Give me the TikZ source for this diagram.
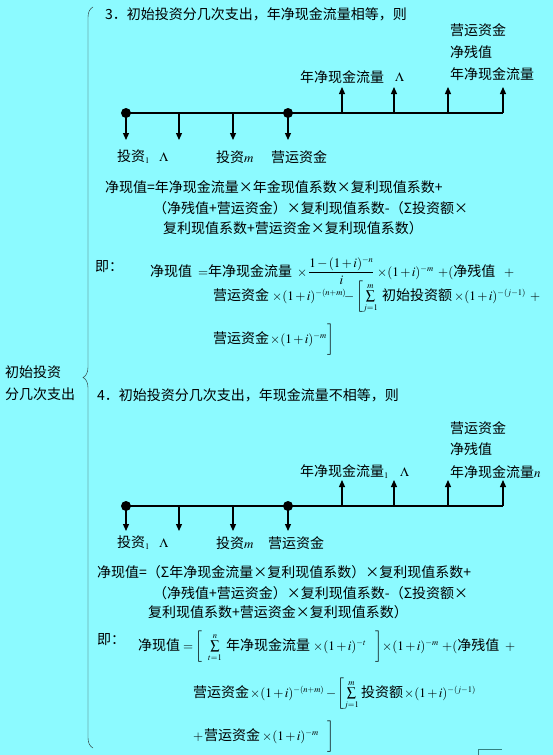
\documentclass[tikz,border=0pt]{standalone}
\usepackage{amsmath}
\usepackage{mathptmx}
\usepackage[no-math]{fontspec}
\setmainfont{Noto Sans CJK SC}
\usepackage{xcolor}
\usepackage{tikz}
\usetikzlibrary{arrows.meta,decorations.pathreplacing}

\DeclareMathSizes{14}{13}{8.5}{6.5}
\definecolor{bgcyan}{RGB}{140,250,255}

\begin{document}
\begin{tikzpicture}[x=1pt,y=-1pt,font=\fontsize{14}{17}\selectfont,>={Triangle[length=7pt,width=6pt]},
  txt/.style={anchor=west,inner sep=0pt},
  eq/.style={anchor=base west,inner sep=0pt,execute at begin node={\medmuskip=2mu\thickmuskip=3mu}},
  dot/.style={circle,fill,inner sep=0pt,minimum size=10pt},
  tl/.style={line width=1.2pt}]
  \fill[bgcyan] (0,0) rectangle (553,755);
  \useasboundingbox (0,0) rectangle (553,755);

  % brace and its label
  \coordinate (bb) at (93,748);
  \coordinate (bt) at (93,7);
  \draw[decorate,decoration={brace,amplitude=10pt},black!85] (bb) -- (bt);
  \node[txt,align=left,font=\fontsize{14}{22}\selectfont] (lbl) at (5,383) {初始投资\\分几次支出};

  % ---- case 3 ----
  \node[txt] (t3) at (105,14) {3．初始投资分几次支出，年净现金流量相等，则};
  \node[txt] (r3a) at (450,30) {营运资金};
  \node[txt] (r3b) at (450,52) {净残值};
  \node[txt] (r3c) at (450,74) {年净现金流量};
  \node[txt] (c3) at (300,77) {年净现金流量};
  \node[txt] (l3) at (395,77) {$\Lambda$};

  \node[dot] (s3a) at (126,113) {};
  \coordinate (s3b) at (179,113);
  \coordinate (s3c) at (233,113);
  \node[dot] (s3d) at (288,113) {};
  \coordinate (s3e) at (342,113);
  \coordinate (s3f) at (394,113);
  \coordinate (s3g) at (448,113);
  \coordinate (s3h) at (503,113);
  \draw[tl] (s3a.center) -- (s3h);
  \coordinate (d3a) at (126,140); \draw[tl,->] (s3a.center) -- (d3a);
  \coordinate (d3b) at (179,140); \draw[tl,->] (s3b) -- (d3b);
  \coordinate (d3c) at (233,140); \draw[tl,->] (s3c) -- (d3c);
  \coordinate (d3d) at (288,140); \draw[tl,->] (s3d.center) -- (d3d);
  \coordinate (u3e) at (342,87); \draw[tl,->] (s3e) -- (u3e);
  \coordinate (u3f) at (394,87); \draw[tl,->] (s3f) -- (u3f);
  \coordinate (u3g) at (448,87); \draw[tl,->] (s3g) -- (u3g);
  \coordinate (u3h) at (503,87); \draw[tl,->] (s3h) -- (u3h);

  \node[txt] (i3a) at (117,157) {投资$_1$\ \ \ $\Lambda$};
  \node[txt] (i3m) at (216,157) {投资$m$};
  \node[txt] (w3) at (271,157) {营运资金};

  \node[txt] (e3a) at (105,187) {净现值=年净现金流量×年金现值系数×复利现值系数+};
  \node[txt] (e3b) at (153,208) {（净残值+营运资金）×复利现值系数-（Σ投资额×};
  \node[txt] (e3c) at (163,228) {复利现值系数+营运资金×复利现值系数）};
  \node[txt] (j3) at (95,267) {即：};
  % formula, line 1
  \node[eq] (f3a) at (150,276) {净现值};
  \node[eq] (f3b) at (198,276) {$=$};
  \node[eq] (f3c) at (208,276) {年净现金流量};
  \node[eq] (f3d) at (297,276) {$\times$};
  \node[eq] (f3e) at (308,276) {$\dfrac{1-(1+i)^{-n}}{i}$};
  \node[eq] (f3f) at (377,276) {$\times(1+i)^{-m}$};
  \node[eq] (f3g) at (438,276) {$+(\text{净残值}$};
  \node[eq] (f3h) at (504,276) {$+$};
  % line 2
  \node[eq] (f3i) at (213,300) {营运资金};
  \node[eq] (f3j) at (272,300) {$\times(1+i)^{-(n+m)}$};
  \node[eq] (f3k) at (344,300) {$-$};
  \node[eq] (f3l) at (356,300) {$\left[\sum\limits_{j=1}^{m}\right.$};
  \node[eq] (f3m) at (382,300) {初始投资额};
  \node[eq] (f3n) at (454,300) {$\times(1+i)^{-(j-1)}$};
  \node[eq] (f3o) at (530,300) {$+$};
  % line 3
  \node[eq] (f3p) at (213,343) {营运资金};
  \node[eq] (f3q) at (270,343) {$\times(1+i)^{-m}$};
  \node[eq] (f3r) at (326,343) {$\left.\vphantom{\sum\limits_{j=1}^{m}}\right]$};

  % ---- case 4 ----
  \node[txt] (t4) at (97,395) {4．初始投资分几次支出，年现金流量不相等，则};
  \node[txt] (r4a) at (450,428) {营运资金};
  \node[txt] (r4b) at (450,449) {净残值};
  \node[txt] (r4c) at (450,472) {年净现金流量$n$};
  \node[txt] (c4) at (300,472) {年净现金流量$_1$};
  \node[txt] (l4) at (400,472) {$\Lambda$};

  \node[dot] (s4a) at (126,506) {};
  \coordinate (s4b) at (179,506);
  \coordinate (s4c) at (233,506);
  \node[dot] (s4d) at (288,506) {};
  \coordinate (s4e) at (342,506);
  \coordinate (s4f) at (394,506);
  \coordinate (s4g) at (448,506);
  \coordinate (s4h) at (503,506);
  \draw[tl] (s4a.center) -- (s4h);
  \coordinate (d4a) at (126,531); \draw[tl,->] (s4a.center) -- (d4a);
  \coordinate (d4b) at (179,531); \draw[tl,->] (s4b) -- (d4b);
  \coordinate (d4c) at (233,531); \draw[tl,->] (s4c) -- (d4c);
  \coordinate (d4d) at (288,531); \draw[tl,->] (s4d.center) -- (d4d);
  \coordinate (u4e) at (342,480); \draw[tl,->] (s4e) -- (u4e);
  \coordinate (u4f) at (394,480); \draw[tl,->] (s4f) -- (u4f);
  \coordinate (u4g) at (448,480); \draw[tl,->] (s4g) -- (u4g);
  \coordinate (u4h) at (503,480); \draw[tl,->] (s4h) -- (u4h);

  \node[txt] (i4a) at (117,543) {投资$_1$\ \ \ $\Lambda$};
  \node[txt] (i4m) at (216,543) {投资$m$};
  \node[txt] (w4) at (268,543) {营运资金};

  \node[txt] (e4a) at (97,572) {净现值=（Σ年净现金流量×复利现值系数）×复利现值系数+};
  \node[txt] (e4b) at (153,593) {（净残值+营运资金）×复利现值系数-（Σ投资额×};
  \node[txt] (e4c) at (148,612) {复利现值系数+营运资金×复利现值系数）};
  \node[txt] (j4) at (97,640) {即：};
  % formula, line 1
  \node[eq] (f4a) at (138,650) {净现值};
  \node[eq] (f4b) at (183,650) {$=$};
  \node[eq] (f4c) at (195,650) {$\left[\vphantom{\sum\limits_{t=1}^{n}}\right.$};
  \node[eq] (f4d) at (208,650) {$\sum\limits_{t=1}^{n}$};
  \node[eq] (f4e) at (226,650) {年净现金流量};
  \node[eq] (f4f) at (313,650) {$\times(1+i)^{-t}$};
  \node[eq] (f4g) at (374,650) {$\left.\vphantom{\sum\limits_{t=1}^{n}}\right]$};
  \node[eq] (f4h) at (382,650) {$\times(1+i)^{-m}$};
  \node[eq] (f4i) at (442,650) {$+(\text{净残值}$};
  \node[eq] (f4j) at (505,650) {$+$};
  % line 2
  \node[eq] (f4k) at (193,697) {营运资金};
  \node[eq] (f4l) at (250,697) {$\times(1+i)^{-(n+m)}$};
  \node[eq] (f4m) at (326,697) {$-$};
  \node[eq] (f4n) at (337,697) {$\left[\sum\limits_{j=1}^{m}\right.$};
  \node[eq] (f4o) at (361,697) {投资额};
  \node[eq] (f4p) at (404,697) {$\times(1+i)^{-(j-1)}$};
  % line 3
  \node[eq] (f4q) at (193,740) {$+$};
  \node[eq] (f4r) at (204,740) {营运资金};
  \node[eq] (f4s) at (262,740) {$\times(1+i)^{-m}$};
  \node[eq] (f4t) at (326,740) {$\left.\vphantom{\sum\limits_{j=1}^{m}}\right]$};

  % corner mark
  \coordinate (k1) at (478,755);
  \coordinate (k2) at (478,749);
  \coordinate (k3) at (502,749);
  \draw[teal!60!gray] (k1) -- (k2) -- (k3);
\end{tikzpicture}
\end{document}
